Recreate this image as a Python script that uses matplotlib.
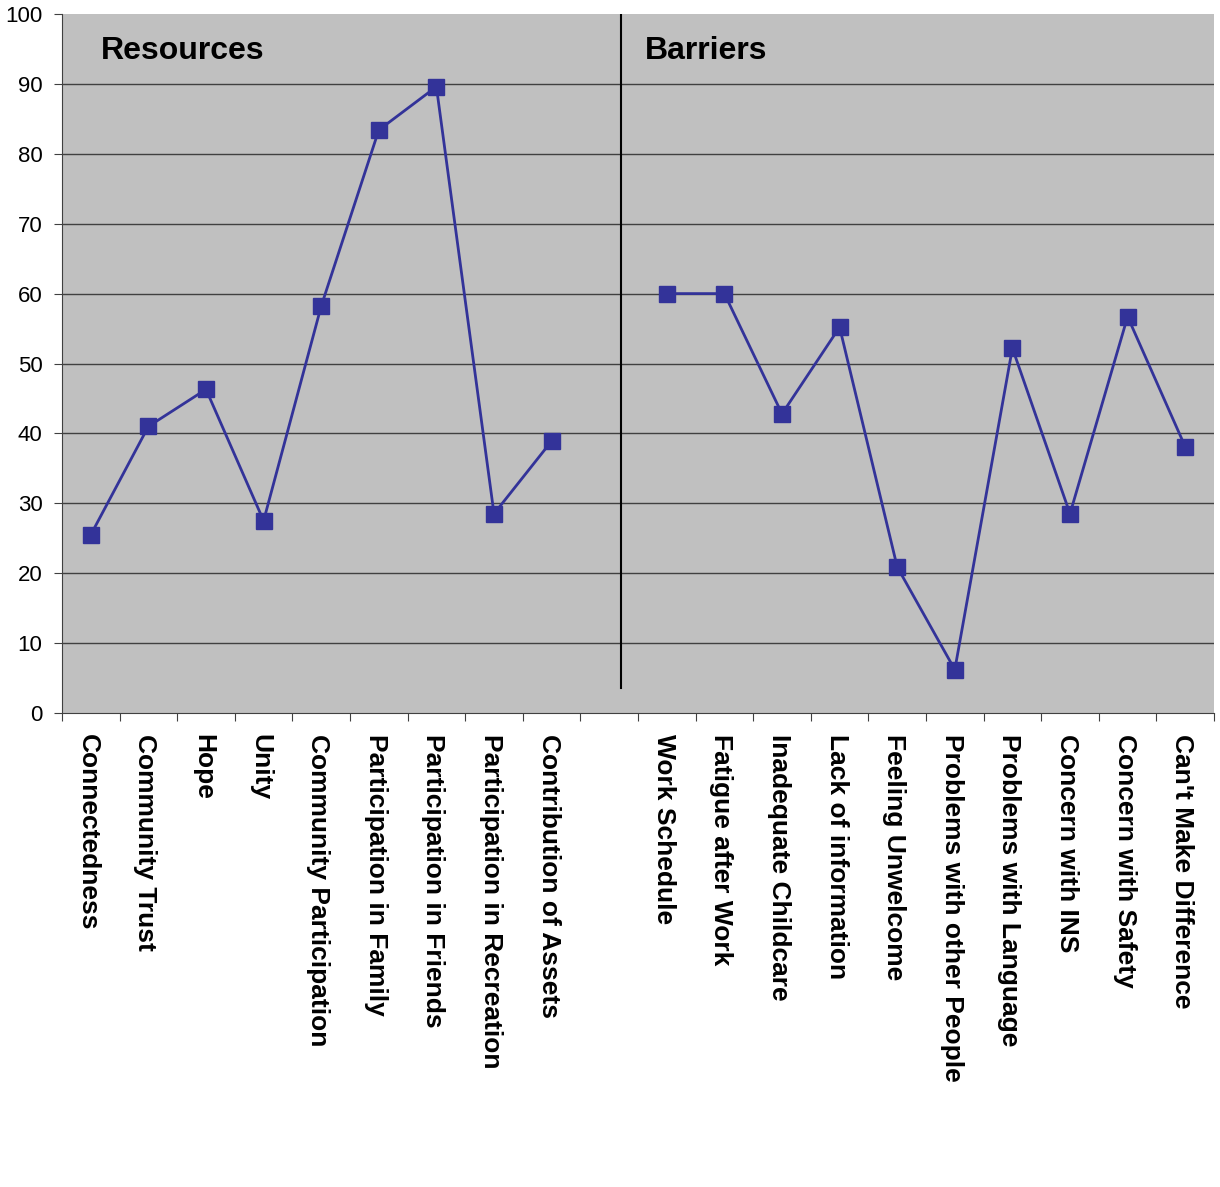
import numpy as np
import matplotlib.pyplot as plt
from matplotlib.transforms import ScaledTranslation

plt.rcParams['font.family'] = ['Liberation Sans', 'DejaVu Sans']

resources = ['Connectedness', 'Community Trust', 'Hope', 'Unity',
             'Community Participation', 'Participation in Family',
             'Participation in Friends', 'Participation in Recreation',
             'Contribution of Assets']
resource_vals = [25.5, 41.0, 46.3, 27.5, 58.2, 83.4, 89.6, 28.5, 38.9]

barriers = ['Work Schedule', 'Fatigue after Work', 'Inadequate Childcare',
            'Lack of information', 'Feeling Unwelcome',
            'Problems with other People', 'Problems with Language',
            'Concern with INS', 'Concern with Safety', "Can't Make Difference"]
barrier_vals = [60.0, 60.0, 42.8, 55.2, 20.9, 6.2, 52.2, 28.5, 56.7, 38.1]

labels = resources + [''] + barriers
values = resource_vals + [np.nan] + barrier_vals
x = np.arange(len(labels))

fig = plt.figure(figsize=(12.2, 11.87), dpi=100)
ax = fig.add_axes([62 / 1220, 1 - 713 / 1187, 1152 / 1220, 699 / 1187])
ax.set_facecolor('#c0c0c0')

ax.plot(x, values, color='#333399', lw=2, marker='s', ms=11.5,
        mfc='#333399', mec='#333399', zorder=3)

ax.set_xlim(-0.5, len(labels) - 0.5)
ax.set_ylim(0, 100)
ax.set_yticks(np.arange(0, 101, 10))
# gridlines 10..90 only
for yv in range(10, 100, 10):
    ax.axhline(yv, color='#404040', lw=1, zorder=1)

# boundary ticks without labels, labels at category centres
ax.set_xticks(np.arange(-0.5, len(labels), 1))
ax.set_xticklabels([])
ax.set_xticks(x, minor=True)
ax.set_xticklabels(labels, minor=True, rotation=-90, fontsize=19,
                   fontweight='bold', va='top', ha='center')
ax.tick_params(axis='x', which='minor', length=0, pad=15)
ax.tick_params(axis='x', which='major', length=6, color='#404040')
ax.tick_params(axis='y', length=6, labelsize=16, color='#404040', pad=8)
shift = ScaledTranslation(-3 / 100, 0, fig.dpi_scale_trans)
for lab in ax.get_xticklabels(minor=True):
    lab.set_transform(lab.get_transform() + shift)

for s in ['top', 'right']:
    ax.spines[s].set_visible(False)
for s in ['left', 'bottom']:
    ax.spines[s].set_color('#404040')

# divider between the two groups
ax.axvline(9.2, ymin=0.036, ymax=1, color='black', lw=1.5)

ax.text(0.034, 0.947, 'Resources', transform=ax.transAxes, fontsize=23,
        fontweight='bold', va='center')
ax.text(0.506, 0.947, 'Barriers', transform=ax.transAxes, fontsize=23,
        fontweight='bold', va='center')

fig.savefig('out.png', dpi=100)
